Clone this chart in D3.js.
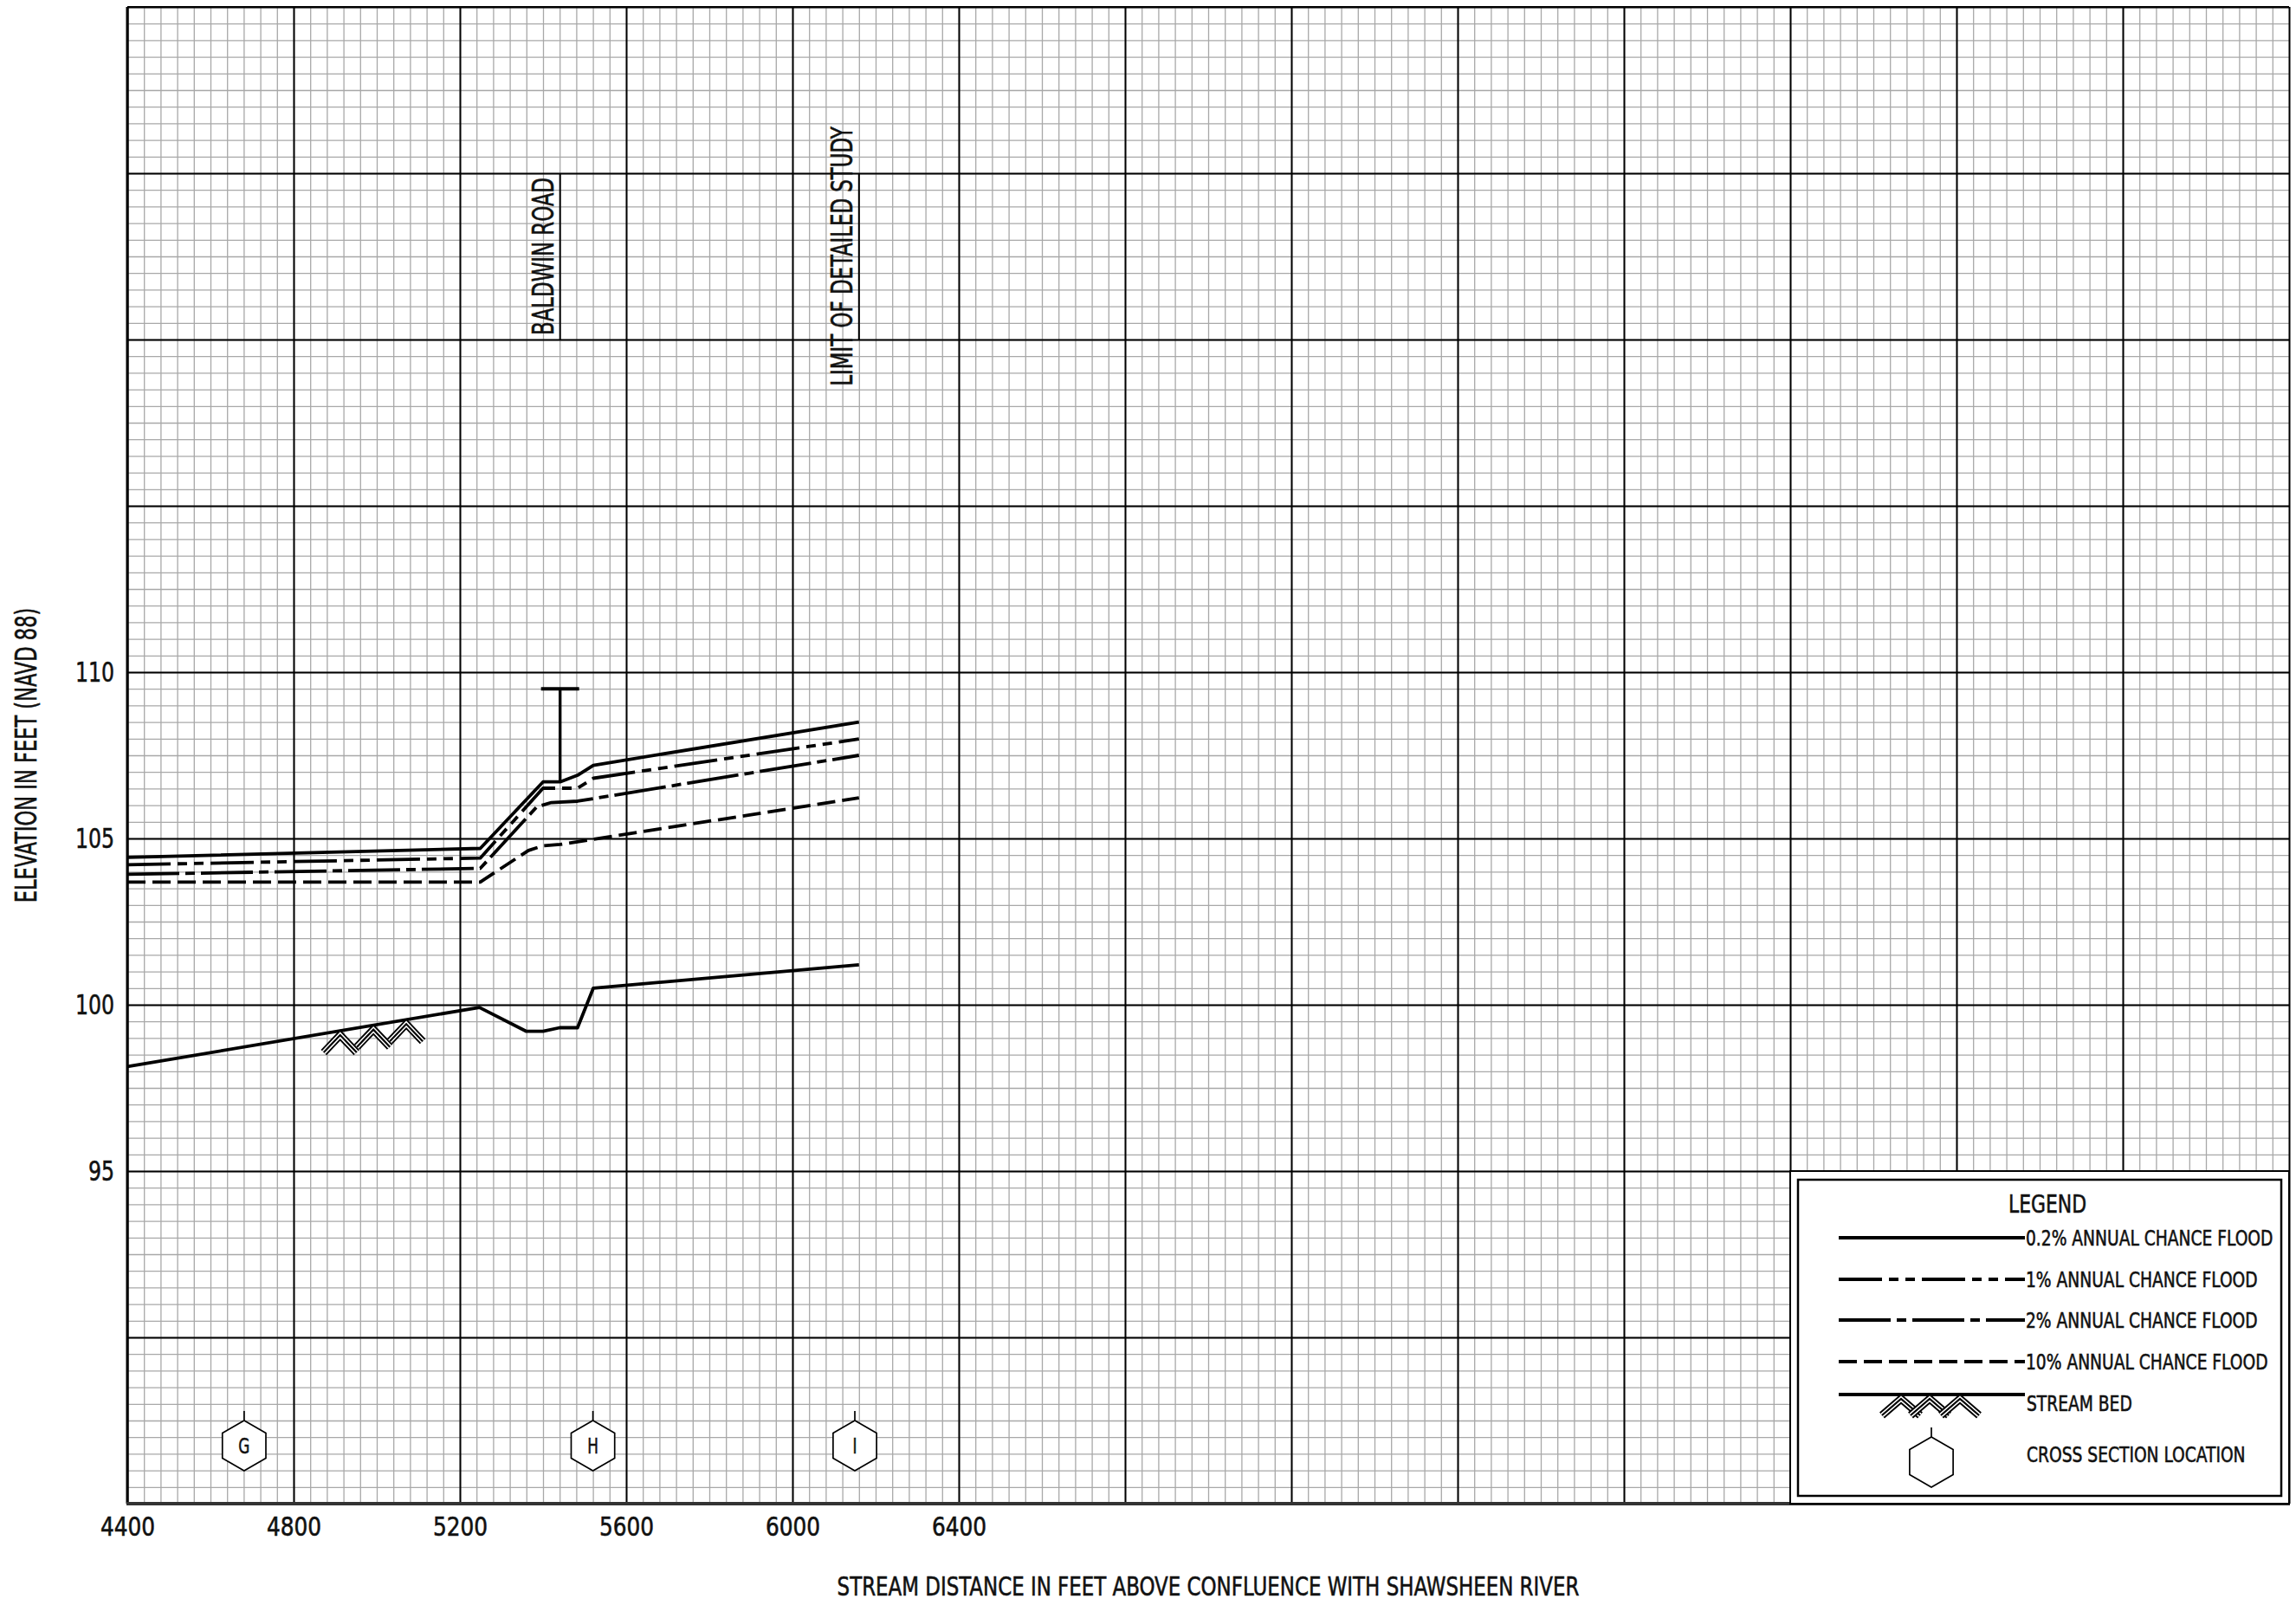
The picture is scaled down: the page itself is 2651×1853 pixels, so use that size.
<!DOCTYPE html>
<html lang="en">
<head>
<meta charset="UTF-8">
<title>Flood Profile - Stream Distance vs Elevation</title>
<style>
    body { margin: 0; background: #fff; }
    text { font-family: "DejaVu Sans Condensed", "Liberation Sans Narrow", sans-serif; fill: #111; stroke: #111; stroke-width: 0.55px; }
</style>
</head>
<body>
<script src="https://cdn.jsdelivr.net/npm/d3@7"></script>
<script>
    // ---- data ----
    var xTickValues = [4400, 4800, 5200, 5600, 6000, 6400];
    var yTickValues = [95, 100, 105, 110];

    // [stream distance (ft), elevation (ft NAVD 88)]
    var flood02 = [[4400,104.43],[5249,104.70],[5400,106.70],[5441,106.70],[5483,106.90],[5521,107.20],[6160,108.50]];
    var flood1  = [[4400,104.21],[5249,104.41],[5400,106.51],[5483,106.51],[5521,106.81],[6160,107.99]];
    var flood2  = [[4400,103.92],[5249,104.10],[5385,105.95],[5420,106.08],[5483,106.12],[6160,107.50]];
    var flood10 = [[4400,103.69],[5249,103.69],[5365,104.64],[5400,104.78],[5441,104.82],[6160,106.22]];
    var streamBed = [[4400,98.14],[5247,99.92],[5360,99.20],[5400,99.20],[5440,99.31],[5483,99.31],[5521,100.50],[6160,101.20]];

    var bedHatchStations = [4912, 4992, 5071];

    var crossSectionLabels = ["G", "H", "I"];
    var crossSectionStations = [4681, 5520, 6150];

    var bridgeStation = 5441, bridgeLow = 106.70, bridgeHigh = 109.5;

    var annotationLabels = ["BALDWIN ROAD", "LIMIT OF DETAILED STUDY"];
    var annotationStations = [5441, 6160];
    var annotationRange = [120, 125];

    var legendLabels = ["0.2% ANNUAL CHANCE FLOOD", "1% ANNUAL CHANCE FLOOD", "2% ANNUAL CHANCE FLOOD", "10% ANNUAL CHANCE FLOOD"];

    // ---- layout ----
    var width = 2651, height = 1853;
    var x = d3.scaleLinear().domain([4400, 9600]).range([147, 2643]);
    var y = d3.scaleLinear().domain([85, 130]).range([1736, 8]);
    var plotH = y(85) - y(130);
    var plotW = x(9600) - x(4400);

    // dash patterns per series
    var dash02 = null, dash1 = "50,8,11,8,11,8", dash2 = "60,7,11,7", dash10 = "21,8";

    var svg = d3.select("body").append("svg")
        .attr("width", width).attr("height", height);

    // squeeze text horizontally about its anchor x (no narrow font installed)
    function condense(sel, f) {
        sel.each(function(){
            var el = d3.select(this);
            var ax = +(el.attr("x") || 0);
            var t = el.attr("transform") || "";
            el.attr("transform", t + " translate(" + ax + ",0) scale(" + f + ",1) translate(" + (-ax) + ",0)");
        });
        return sel;
    }

    // ---- grid (minor then major) ----
    function grid(vals, color, w) {
        var gx = svg.append("g")
            .attr("transform", "translate(0," + y(85) + ")")
            .call(d3.axisBottom(x).tickValues(vals.x).tickSize(-plotH).tickFormat(""));
        var gy = svg.append("g")
            .attr("transform", "translate(" + x(4400) + ",0)")
            .call(d3.axisLeft(y).tickValues(vals.y).tickSize(-plotW).tickFormat(""));
        [gx, gy].forEach(function(g){
            g.select(".domain").remove();
            g.selectAll("line").attr("stroke", color).attr("stroke-width", w);
        });
    }
    grid({x: d3.range(4400, 9601, 40), y: d3.range(85, 130.01, 0.5)}, "#a8a8a8", 1.3);
    grid({x: d3.range(4400, 9601, 400), y: d3.range(85, 130.01, 5)}, "#000", 2);

    // frame
    svg.append("line").attr("x1", x(4400)).attr("x2", x(4400)).attr("y1", y(130)).attr("y2", y(85))
        .attr("stroke", "#000").attr("stroke-width", 3);
    svg.append("line").attr("x1", x(4400) - 1).attr("x2", x(9600) + 1).attr("y1", y(85)).attr("y2", y(85))
        .attr("stroke", "#333").attr("stroke-width", 4);
    svg.append("line").attr("x1", x(4400)).attr("x2", x(9600)).attr("y1", y(130)).attr("y2", y(130))
        .attr("stroke", "#000").attr("stroke-width", 2);

    // ---- axis labels ----
    var fontStack = "'DejaVu Sans Condensed','Liberation Sans Narrow',sans-serif";
    var xAxis = svg.append("g")
        .attr("transform", "translate(0," + y(85) + ")")
        .call(d3.axisBottom(x).tickValues(xTickValues).tickSize(0).tickPadding(15).tickFormat(d3.format("d")));
    xAxis.select(".domain").remove();
    condense(xAxis.selectAll("text").attr("font-size", 31).attr("fill", "#111")
        .style("font-family", fontStack), 0.89);

    var yAxis = svg.append("g")
        .attr("transform", "translate(" + x(4400) + ",0)")
        .call(d3.axisLeft(y).tickValues(yTickValues).tickSize(0).tickPadding(15).tickFormat(d3.format("d")));
    yAxis.select(".domain").remove();
    condense(yAxis.selectAll("text").attr("font-size", 32).attr("fill", "#111")
        .style("font-family", fontStack), 0.82);

    condense(svg.append("text")
        .attr("x", (x(4400) + x(9600)) / 2).attr("y", 1842)
        .attr("text-anchor", "middle").attr("font-size", 30)
        .text("STREAM DISTANCE IN FEET ABOVE CONFLUENCE WITH SHAWSHEEN RIVER"), 0.85);

    condense(svg.append("text")
        .attr("transform", "translate(42," + ((y(85) + y(130)) / 2) + ") rotate(-90)")
        .attr("text-anchor", "middle").attr("font-size", 33)
        .text("ELEVATION IN FEET (NAVD 88)"), 0.76);

    // ---- annotations (road / study limit) ----
    annotationLabels.forEach(function(lbl, i) {
        var ax = x(annotationStations[i]);
        svg.append("line").attr("x1", ax).attr("x2", ax)
            .attr("y1", y(annotationRange[1])).attr("y2", y(annotationRange[0]))
            .attr("stroke", "#000").attr("stroke-width", 2);
        condense(svg.append("text")
            .attr("transform", "translate(" + (ax - 8) + "," + y((annotationRange[0] + annotationRange[1]) / 2) + ") rotate(-90)")
            .attr("text-anchor", "middle").attr("font-size", 33)
            .text(lbl), 0.77);
    });

    // ---- profiles ----
    var line = d3.line().x(function(d){ return x(d[0]); }).y(function(d){ return y(d[1]); });

    function profile(data, dash, w) {
        svg.append("path").datum(data)
            .attr("d", line)
            .attr("fill", "none").attr("stroke", "#000")
            .attr("stroke-width", w)
            .attr("stroke-linejoin", "round")
            .attr("stroke-dasharray", dash);
    }
    profile(flood10, dash10, 3.8);
    profile(flood2, dash2, 3.8);
    profile(flood1, dash1, 3.8);
    profile(flood02, dash02, 3.8);
    profile(streamBed, null, 3.8);

    // bridge
    svg.append("line").attr("x1", x(bridgeStation)).attr("x2", x(bridgeStation))
        .attr("y1", y(bridgeLow)).attr("y2", y(bridgeHigh))
        .attr("stroke", "#000").attr("stroke-width", 3.4);
    svg.append("line").attr("x1", x(bridgeStation) - 22).attr("x2", x(bridgeStation) + 22)
        .attr("y1", y(bridgeHigh)).attr("y2", y(bridgeHigh))
        .attr("stroke", "#000").attr("stroke-width", 4);

    // stream bed hatch (triple-stroke chevrons)
    function chevron(cx, cy, hw, drop, g) {
        var p = "M" + (cx - hw) + "," + (cy + drop) + "L" + cx + "," + cy + "L" + (cx + hw) + "," + (cy + drop);
        [[9, "#000"], [5.2, "#fff"], [2.2, "#000"]].forEach(function(s){
            g.append("path").attr("d", p).attr("fill", "none")
                .attr("stroke", s[1]).attr("stroke-width", s[0]).attr("stroke-linecap", "butt");
        });
    }
    function bedAt(ft) {
        for (var i = 1; i < streamBed.length; i++) {
            if (ft <= streamBed[i][0]) {
                var a = streamBed[i-1], b = streamBed[i];
                return a[1] + (b[1] - a[1]) * (ft - a[0]) / (b[0] - a[0]);
            }
        }
        return streamBed[streamBed.length-1][1];
    }
    var hatchG = svg.append("g");
    bedHatchStations.forEach(function(s){
        chevron(x(s), y(bedAt(s)) + 5, 19, 20, hatchG);
    });

    // cross section hexagons
    function hexagon(cx, cy, r, g) {
        var pts = d3.range(6).map(function(k){
            var a = Math.PI / 3 * k - Math.PI / 2;
            return [cx + r * Math.cos(a), cy + r * Math.sin(a)];
        });
        g.append("polygon").attr("points", pts.map(function(p){ return p.join(","); }).join(" "))
            .attr("fill", "#fff").attr("stroke", "#000").attr("stroke-width", 1.7);
        g.append("line").attr("x1", cx).attr("x2", cx).attr("y1", cy - r).attr("y2", cy - r - 11)
            .attr("stroke", "#000").attr("stroke-width", 1.7);
    }
    var csG = svg.append("g");
    crossSectionStations.forEach(function(s, i){
        var cx = x(s), cy = y(85) - 67;
        hexagon(cx, cy, 29, csG);
        condense(csG.append("text").attr("x", cx).attr("y", cy + 9)
            .attr("text-anchor", "middle").attr("font-size", 24)
            .text(crossSectionLabels[i]), 0.78);
    });

    // ---- legend ----
    var lx = x(8400), ly = y(95), lw = x(9600) - x(8400), lh = y(85) - y(95);
    var lg = svg.append("g");
    lg.append("rect").attr("x", lx).attr("y", ly).attr("width", lw).attr("height", lh)
        .attr("fill", "#fff").attr("stroke", "#000").attr("stroke-width", 2);
    lg.append("rect").attr("x", lx + 9).attr("y", ly + 10).attr("width", lw - 18).attr("height", lh - 19)
        .attr("fill", "none").attr("stroke", "#000").attr("stroke-width", 2.5);
    condense(lg.append("text").attr("x", lx + 297).attr("y", ly + 48)
        .attr("text-anchor", "middle").attr("font-size", 29).text("LEGEND"), 0.84);

    var legendDashes = [dash02, dash1, dash2, dash10];
    var rowY = [77, 125, 172, 220];
    legendLabels.forEach(function(lbl, i){
        lg.append("line").attr("x1", lx + 56).attr("x2", lx + 271)
            .attr("y1", ly + rowY[i]).attr("y2", ly + rowY[i])
            .attr("stroke", "#000").attr("stroke-width", 4)
            .attr("stroke-dasharray", legendDashes[i]);
        condense(lg.append("text").attr("x", lx + 272).attr("y", ly + rowY[i] + 9)
            .attr("font-size", 24).text(lbl), 0.865);
    });

    // stream bed legend row
    lg.append("line").attr("x1", lx + 56).attr("x2", lx + 271)
        .attr("y1", ly + 258).attr("y2", ly + 258)
        .attr("stroke", "#000").attr("stroke-width", 4);
    [128, 161, 196].forEach(function(off){
        chevron(lx + off, ly + 263, 22, 19, lg);
    });
    condense(lg.append("text").attr("x", lx + 273).attr("y", ly + 277).attr("font-size", 24).text("STREAM BED"), 0.865);

    hexagon(lx + 163, ly + 336, 29, lg);
    condense(lg.append("text").attr("x", lx + 273).attr("y", ly + 336).attr("font-size", 24).text("CROSS SECTION LOCATION"), 0.865);
</script>
</body>
</html>
